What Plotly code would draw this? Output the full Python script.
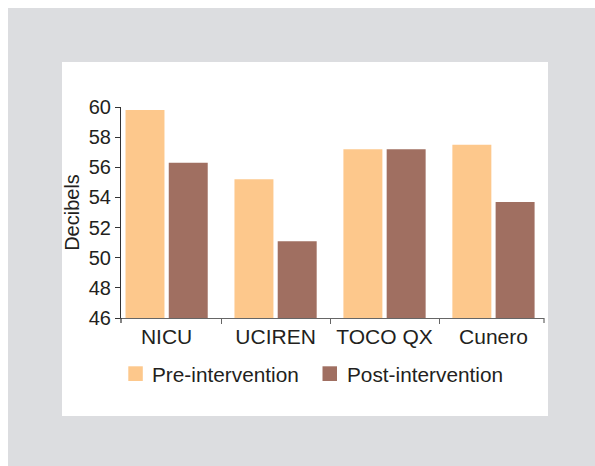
import plotly.graph_objects as go

# Noise levels by unit, before and after the intervention
units = ["NICU", "UCIREN", "TOCO QX", "Cunero"]
pre_intervention = [59.8, 55.2, 57.2, 57.5]
post_intervention = [56.3, 51.1, 57.2, 53.7]
y_ticks = [46, 48, 50, 52, 54, 56, 58, 60]
series_names = ["Pre-intervention", "Post-intervention"]

W_FIG, H_FIG = 595, 466
M_L, M_R, M_T, M_B = 121, 51, 107, 148
PW, PH = W_FIG - M_L - M_R, H_FIG - M_T - M_B

TEXT = "#231f20"
FONT = "Liberation Sans, Arial, Helvetica, sans-serif"
PRE_COLOR = "#fdc88c"
POST_COLOR = "#a06f61"
FRAME = "#dcdde0"


def px_x(px):
    return (px - M_L) / PW


def px_y(py):
    return 1 - (py - M_T) / PH


fig = go.Figure()
fig.add_trace(go.Bar(x=units, y=pre_intervention, name=series_names[0],
                     marker=dict(color=PRE_COLOR, line=dict(width=0))))
fig.add_trace(go.Bar(x=units, y=post_intervention, name=series_names[1],
                     marker=dict(color=POST_COLOR, line=dict(width=0))))

shapes = [
    # grey frame with a white card on top
    dict(type="rect", xref="paper", yref="paper", layer="below",
         x0=px_x(8), x1=px_x(595), y0=px_y(466), y1=px_y(8),
         fillcolor=FRAME, line=dict(width=0)),
    dict(type="rect", xref="paper", yref="paper", layer="below",
         x0=px_x(62), x1=px_x(548), y0=px_y(416), y1=px_y(62),
         fillcolor="white", line=dict(width=0)),
    # end ticks of the category axis
    dict(type="line", xref="paper", yref="paper", x0=0, x1=0,
         y0=0, y1=-5 / PH, line=dict(color="#333333", width=1.2)),
    dict(type="line", xref="paper", yref="paper", x0=1, x1=1,
         y0=0, y1=-5 / PH, line=dict(color="#666666", width=1.2)),
]

# legend row below the axis: colour key squares with their labels
annotations = []
for name, color, key_left in zip(series_names, [PRE_COLOR, POST_COLOR], [128.3, 322.5]):
    shapes.append(dict(type="rect", xref="paper", yref="paper",
                       x0=px_x(key_left), x1=px_x(key_left + 14.5),
                       y0=px_y(381), y1=px_y(366.3),
                       fillcolor=color, line=dict(width=0)))
    annotations.append(dict(text=name, xref="paper", yref="paper",
                            x=px_x(key_left + 22), y=px_y(374),
                            xanchor="left", yanchor="middle", showarrow=False,
                            font=dict(size=20.8, color=TEXT, family=FONT)))

fig.update_layout(
    width=W_FIG, height=H_FIG,
    margin=dict(l=M_L, r=M_R, t=M_T, b=M_B, pad=0),
    paper_bgcolor="white", plot_bgcolor="rgba(0,0,0,0)",
    font=dict(family=FONT, color=TEXT, size=20),
    barmode="group", bargap=0.206, bargroupgap=0.099,
    shapes=shapes, annotations=annotations,
    showlegend=False,
)

fig.update_xaxes(
    type="category", range=[-0.4187, 3.4637],
    showline=True, linecolor="#666666", linewidth=1.2,
    ticks="outside", tickson="boundaries", ticklen=5, tickcolor="#666666",
    tickwidth=1.2, showgrid=False, zeroline=False,
    tickfont=dict(size=21, color=TEXT, family=FONT),
)
fig.update_yaxes(
    range=[46, 60], tickvals=y_ticks,
    showline=True, linecolor="#333333", linewidth=1.2,
    ticks="outside", ticklen=5, tickcolor="#333333", tickwidth=1.2,
    showgrid=False, zeroline=False,
    tickfont=dict(size=20, color=TEXT, family=FONT),
    title=dict(text="Decibels", standoff=3,
               font=dict(size=20, color=TEXT, family=FONT)),
)

fig.write_html("out.html")
